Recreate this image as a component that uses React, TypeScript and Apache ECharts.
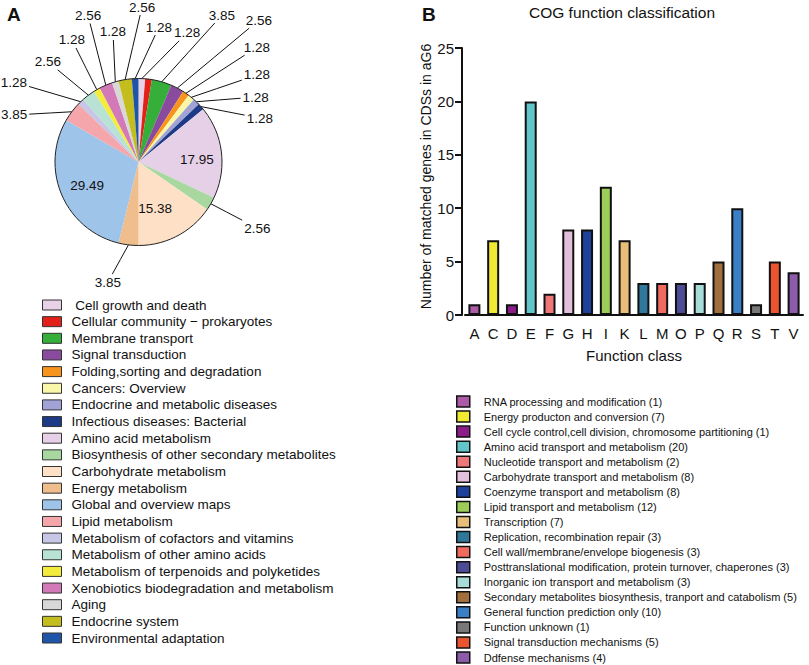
import React, { useEffect, useRef } from "react";
import * as echarts from "echarts";

// ---------- Panel A data (pie, % of annotated genes) ----------
const pieNames = [
  " Cell growth and death",
  "Cellular community − prokaryotes",
  "Membrane transport",
  "Signal transduction",
  "Folding,sorting and degradation",
  "Cancers: Overview",
  "Endocrine and metabolic diseases",
  "Infectious diseases: Bacterial",
  "Amino acid metabolism",
  "Biosynthesis of other secondary metabolites",
  "Carbohydrate metabolism",
  "Energy metabolism",
  "Global and overview maps",
  "Lipid metabolism",
  "Metabolism of cofactors and vitamins",
  "Metabolism of other amino acids",
  "Metabolism of terpenoids and polyketides",
  "Xenobiotics biodegradation and metabolism",
  "Aging",
  "Endocrine system",
  "Environmental adaptation",
];
const pieValues = [
  1.28, 1.28, 3.85, 2.56, 1.28, 1.28, 1.28, 1.28, 17.95, 2.56, 15.38, 3.85,
  29.49, 3.85, 1.28, 2.56, 1.28, 2.56, 1.28, 2.56, 1.28,
];
const pieColors = [
  "#e8d2e8", "#e32119", "#35ae3a", "#8a4b9e", "#f7941d", "#fbf7a8", "#a1a3d6",
  "#1d3a87", "#e6d0e8", "#a8d8a0", "#fde0c6", "#f0bd8c", "#9fc4e9", "#f5a6aa",
  "#c8c6e6", "#b8e2d4", "#f3ec3c", "#d479b8", "#d8d8d8", "#c3bd1d", "#1f55a8",
];
// label placement (layout only): polar angle (deg, clockwise from top) and radius
const pieLabelAngle = [
  20.6, null, 29.6, 40.3, 45.9, 53.7, 61, 70.1, 88, 119.1, 160.3, 194.3, 245.9,
  290.7, 302.7, 317.9, 331.4, 341, 348.9, 1.3, 8.6,
];
const pieLabelRadius = [
  138, null, 169, 186, 165, 147, 134, 129, 58.5, 136, 49, 124, 56.4, 133, 148,
  135, 139, 155, 132.5, 155, 136.5,
];
const pieInside = [8, 10, 12];

// ---------- Panel B data (COG bars) ----------
const cogClasses = ["A", "C", "D", "E", "F", "G", "H", "I", "K", "L", "M", "O", "P", "Q", "R", "S", "T", "V"];
const cogCounts = [1, 7, 1, 20, 2, 8, 8, 12, 7, 3, 3, 3, 3, 5, 10, 1, 5, 4];
const cogDescriptions = [
  "RNA processing and modification",
  "Energy producton and conversion",
  "Cell cycle control,cell division, chromosome partitioning",
  "Amino acid transport and metabolism",
  "Nucleotide transport and metabolism",
  "Carbohydrate transport and metabolism",
  "Coenzyme transport and metabolism",
  "Lipid transport and metabolism",
  "Transcription",
  "Replication, recombination repair",
  "Cell wall/membrane/envelope biogenesis",
  "Posttranslational modification, protein turnover, chaperones",
  "Inorganic ion transport and metabolism",
  "Secondary metabolites biosynthesis, tranport and catabolism",
  "General function prediction only",
  "Function unknown",
  "Signal transduction mechanisms",
  "Ddfense mechanisms",
];
const cogColors = [
  "#ad5aa8", "#f2ea32", "#8b1c8a", "#62c5c9", "#f07777", "#e3bfde", "#1e429b",
  "#9bcd58", "#e9be79", "#2f789b", "#f06a5f", "#4d4b96", "#a8dcd9", "#a06f3b",
  "#3a80c6", "#787878", "#ea5530", "#8c5ba9",
];
const yTicks = { min: 0, max: 25, interval: 5 };

const FONT = "'Liberation Sans', Arial, Helvetica, sans-serif";

const PIE_CX = 138.5;
const PIE_CY = 162;
const PIE_R = 83.5;

export default function App() {
  const ref = useRef<HTMLDivElement>(null);

  useEffect(() => {
    if (!ref.current) return;
    const chart = echarts.init(ref.current, undefined, { renderer: "svg" });

    const total = pieValues.reduce((a, b) => a + b, 0);
    const midAngles: number[] = [];
    let cum = 0;
    pieValues.forEach((v) => {
      midAngles.push(((cum + v / 2) / total) * 360);
      cum += v;
    });

    const pieData = pieNames.map((name, i) => {
      const inside = pieInside.includes(i);
      const hidden = pieLabelAngle[i] == null;
      return {
        name,
        value: pieValues[i],
        itemStyle: { color: pieColors[i] },
        label: {
          show: !hidden,
          position: inside ? "inside" : "outside",
          fontSize: 13.5,
        },
        labelLine: { show: !inside && !hidden },
      };
    });

    const barNames = cogDescriptions.map((d, i) => `${d} (${cogCounts[i]})`);
    const barSeries = cogClasses.map((_, i) => ({
      type: "bar",
      name: barNames[i],
      stack: "cog",
      xAxisIndex: 0,
      yAxisIndex: 0,
      barWidth: 12,
      data: cogClasses.map((__, j) => (j === i ? cogCounts[i] : "-")),
      itemStyle: { color: cogColors[i], borderColor: "#111", borderWidth: 2 },
      emphasis: { disabled: true },
    }));

    const option: any = {
      animation: false,
      textStyle: { fontFamily: FONT, color: "#111" },
      graphic: [
        { type: "text", left: 7, top: 5, style: { text: "A", fontSize: 19, fontWeight: "bold", fill: "#111", fontFamily: FONT } },
        { type: "text", left: 422, top: 5, style: { text: "B", fontSize: 19, fontWeight: "bold", fill: "#111", fontFamily: FONT } },
        {
          type: "text",
          x: 622,
          y: 4,
          style: { text: "COG function classification", fontSize: 15.5, fill: "#111", fontFamily: FONT, align: "center", verticalAlign: "top" },
        },
      ],
      legend: [
        {
          data: pieNames,
          orient: "vertical",
          left: 42,
          top: 298,
          padding: 0,
          itemWidth: 19,
          itemHeight: 10,
          itemGap: 2.65,
          icon: "rect",
          selectedMode: false,
          itemStyle: { borderColor: "#333", borderWidth: 1 },
          textStyle: { fontSize: 13.5, lineHeight: 14, color: "#111", fontFamily: FONT, padding: [0, 0, 0, 5] },
        },
        {
          data: barNames,
          orient: "vertical",
          left: 456,
          top: 395,
          padding: 0,
          itemWidth: 13,
          itemHeight: 11,
          itemGap: 2.06,
          icon: "rect",
          selectedMode: false,
          itemStyle: { borderColor: "#111", borderWidth: 1.5 },
          textStyle: { fontSize: 11, lineHeight: 13, color: "#111", fontFamily: FONT, padding: [0, 0, 0, 9] },
        },
      ],
      grid: { left: 465, top: 48, width: 338, height: 267, containLabel: false },
      xAxis: {
        type: "category",
        data: cogClasses,
        name: "Function class",
        nameLocation: "middle",
        nameGap: 33,
        nameTextStyle: { fontSize: 15, color: "#111" },
        axisLine: { lineStyle: { color: "#111", width: 2 } },
        axisTick: { alignWithLabel: true, length: 5, lineStyle: { width: 1.5, color: "#111" } },
        axisLabel: { fontSize: 15, color: "#111", margin: 11 },
      },
      yAxis: {
        type: "value",
        min: yTicks.min,
        max: yTicks.max,
        interval: yTicks.interval,
        offset: 3,
        name: "Number of matched genes in CDSs in aG6",
        nameLocation: "middle",
        nameRotate: 90,
        nameGap: 25,
        nameTextStyle: { fontSize: 14, color: "#111", padding: [0, 0, 0, 10] },
        axisLine: { show: true, lineStyle: { color: "#111", width: 2 } },
        axisTick: { show: true, length: 7, lineStyle: { width: 2, color: "#111" } },
        axisLabel: { fontSize: 15, color: "#111", margin: 8 },
        splitLine: { show: false },
      },
      series: [
        {
          type: "pie",
          name: "kegg",
          center: [PIE_CX, PIE_CY],
          radius: PIE_R,
          startAngle: 90,
          clockwise: true,
          avoidLabelOverlap: false,
          data: pieData,
          itemStyle: { borderWidth: 0 },
          emphasis: { disabled: true },
          label: {
            color: "#111",
            fontFamily: FONT,
            formatter: (p: any) => Number(p.value).toFixed(2),
          },
          labelLine: { length: 10, length2: 0, lineStyle: { color: "#111", width: 1 } },
          labelLayout: (params: any) => {
            const i = params.dataIndex;
            const a = pieLabelAngle[i];
            const r = pieLabelRadius[i];
            if (a == null || r == null) return {};
            const rad = (a * Math.PI) / 180;
            const x = PIE_CX + r * Math.sin(rad);
            const y = PIE_CY - r * Math.cos(rad);
            const res: any = { x, y, align: "center", verticalAlign: "middle" };
            if (!pieInside.includes(i)) {
              const m = (midAngles[i] * Math.PI) / 180;
              const sx = PIE_CX + PIE_R * Math.sin(m);
              const sy = PIE_CY - PIE_R * Math.cos(m);
              const w = (params.labelRect?.width || 26) / 2 + 2;
              const h = (params.labelRect?.height || 14) / 2 + 1;
              const dx = sx - x;
              const dy = sy - y;
              const t = Math.min(w / Math.max(Math.abs(dx), 1e-6), h / Math.max(Math.abs(dy), 1e-6));
              const ex = x + dx * t;
              const ey = y + dy * t;
              res.labelLinePoints = [
                [sx, sy],
                [(sx + ex) / 2, (sy + ey) / 2],
                [ex, ey],
              ];
            }
            return res;
          },
        },
        {
          type: "pie",
          name: "outline",
          center: [PIE_CX, PIE_CY],
          radius: PIE_R,
          silent: true,
          data: [{ value: 1, name: "outline" }],
          itemStyle: { color: "transparent", borderColor: "#222", borderWidth: 1 },
          label: { show: false },
          labelLine: { show: false },
          emphasis: { disabled: true },
        },
        ...barSeries,
      ],
    };

    chart.setOption(option);
    return () => chart.dispose();
  }, []);

  return (
    <div
      ref={ref}
      style={{ position: "absolute", left: 0, top: 0, width: 809, height: 665, background: "#fff" }}
    />
  );
}
